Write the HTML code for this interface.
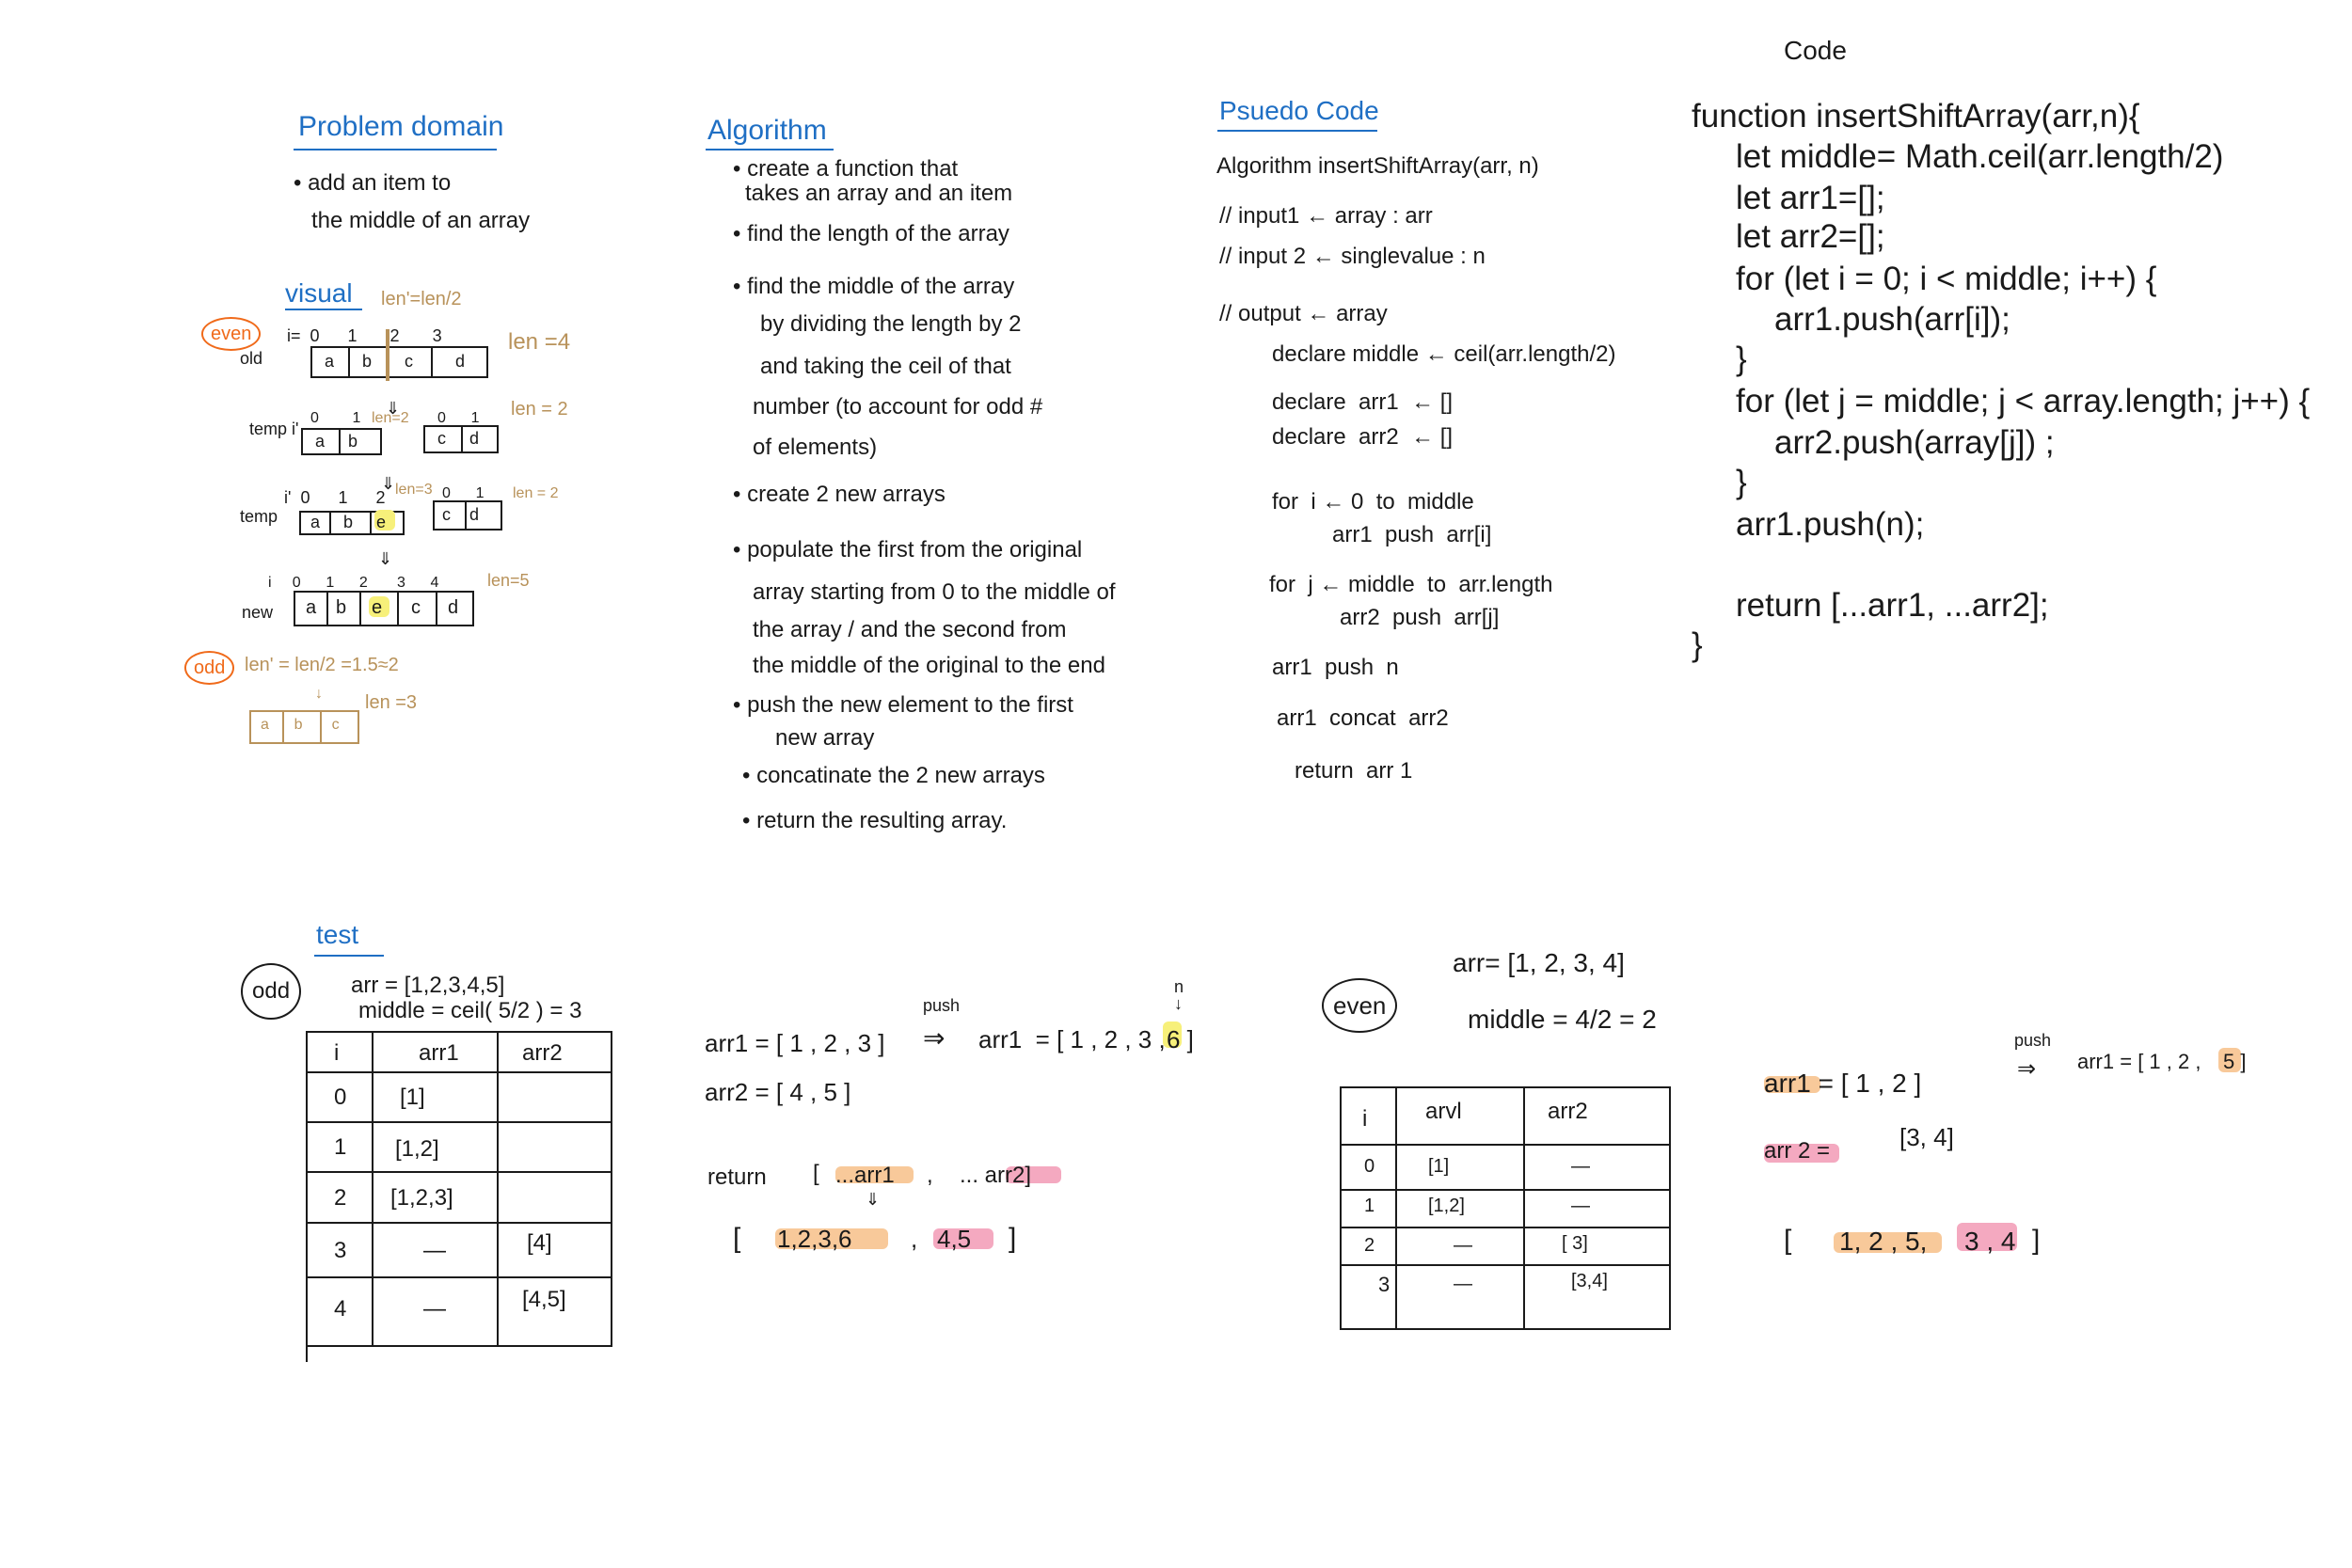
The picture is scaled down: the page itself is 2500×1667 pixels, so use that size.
<!DOCTYPE html>
<html><head><meta charset="utf-8"><style>
body{margin:0;width:2500px;height:1667px;background:#fff;position:relative;overflow:hidden;font-family:"Liberation Sans",sans-serif;color:#1a1a1a}
.t{position:absolute;white-space:nowrap;line-height:1;font-size:24px}
.b{color:#1f6fc4}.o{color:#b8925a}.r{color:#f06a1a}
.c{font-size:35px}
.box{position:absolute;border:2px solid #1a1a1a}
.hl{position:absolute;border-radius:6px}
.ln{position:absolute;background:#1a1a1a}
</style></head><body>

<!-- Problem domain -->
<div class="t b" style="left:317px;top:120px;font-size:30px">Problem domain</div>
<div class="ln" style="left:312px;top:158px;width:216px;height:2px;background:#1f6fc4"></div>
<div class="t" style="left:312px;top:183px">• add an item to</div>
<div class="t" style="left:331px;top:223px">the middle of an array</div>

<!-- Visual -->
<div class="t b" style="left:303px;top:298px;font-size:28px">visual</div>
<div class="ln" style="left:303px;top:328px;width:82px;height:2px;background:#1f6fc4"></div>
<div class="t o" style="left:405px;top:308px;font-size:20px">len'=len/2</div>
<div class="t r" style="left:214px;top:337px;font-size:20px;border:2px solid #f06a1a;border-radius:50%;padding:6px 8px">even</div>
<div class="t" style="left:305px;top:348px;font-size:18px">i= &nbsp;0 &nbsp; &nbsp; &nbsp;1 &nbsp; &nbsp; &nbsp; 2 &nbsp; &nbsp; &nbsp; 3</div>
<div class="t" style="left:255px;top:372px;font-size:18px">old</div>
<div class="box" style="left:330px;top:368px;width:185px;height:30px"></div>
<div class="ln" style="left:370px;top:368px;width:2px;height:32px"></div>
<div class="ln" style="left:410px;top:350px;width:4px;height:55px;background:#b8925a"></div>
<div class="ln" style="left:458px;top:368px;width:2px;height:32px"></div>
<div class="t" style="left:345px;top:375px;font-size:18px">a &nbsp; &nbsp; &nbsp;b &nbsp; &nbsp; &nbsp; c &nbsp; &nbsp; &nbsp; &nbsp; d</div>
<div class="t o" style="left:540px;top:352px;font-size:24px">len =4</div>
<div class="t" style="left:410px;top:425px;font-size:18px">⇓</div>

<div class="t" style="left:265px;top:447px;font-size:18px">temp i'</div>
<div class="t" style="left:330px;top:437px;font-size:16px">0 &nbsp; &nbsp; &nbsp; &nbsp;1</div>
<div class="t o" style="left:395px;top:437px;font-size:16px">len=2</div>
<div class="box" style="left:320px;top:455px;width:82px;height:25px"></div>
<div class="ln" style="left:360px;top:455px;width:2px;height:27px"></div>
<div class="t" style="left:335px;top:460px;font-size:18px">a &nbsp; &nbsp; b</div>
<div class="t" style="left:465px;top:437px;font-size:16px">0 &nbsp; &nbsp; &nbsp;1</div>
<div class="box" style="left:450px;top:452px;width:76px;height:26px"></div>
<div class="ln" style="left:490px;top:452px;width:2px;height:28px"></div>
<div class="t" style="left:465px;top:457px;font-size:18px">c &nbsp; &nbsp; d</div>
<div class="t o" style="left:543px;top:425px;font-size:20px">len = 2</div>

<div class="t" style="left:405px;top:505px;font-size:18px">⇓</div>
<div class="t" style="left:302px;top:520px;font-size:18px">i' &nbsp;0 &nbsp; &nbsp; &nbsp;1 &nbsp; &nbsp; &nbsp;2</div>
<div class="t o" style="left:420px;top:513px;font-size:16px">len=3</div>
<div class="t" style="left:255px;top:540px;font-size:18px">temp</div>
<div class="box" style="left:318px;top:543px;width:108px;height:22px"></div>
<div class="hl" style="left:398px;top:542px;width:22px;height:22px;background:#f7f07a"></div>
<div class="ln" style="left:350px;top:543px;width:2px;height:24px"></div>
<div class="ln" style="left:393px;top:543px;width:2px;height:24px"></div>
<div class="t" style="left:330px;top:546px;font-size:18px">a &nbsp; &nbsp; b &nbsp; &nbsp; e</div>
<div class="t" style="left:470px;top:517px;font-size:16px">0 &nbsp; &nbsp; &nbsp;1</div>
<div class="box" style="left:460px;top:532px;width:70px;height:28px"></div>
<div class="ln" style="left:494px;top:532px;width:2px;height:30px"></div>
<div class="t" style="left:470px;top:538px;font-size:18px">c &nbsp; &nbsp;d</div>
<div class="t o" style="left:545px;top:517px;font-size:16px">len = 2</div>

<div class="t" style="left:402px;top:585px;font-size:18px">⇓</div>
<div class="t" style="left:285px;top:612px;font-size:16px">i &nbsp; &nbsp; 0 &nbsp; &nbsp; &nbsp;1 &nbsp; &nbsp; &nbsp;2 &nbsp; &nbsp; &nbsp; 3 &nbsp; &nbsp; &nbsp;4</div>
<div class="t" style="left:257px;top:642px;font-size:18px">new</div>
<div class="box" style="left:312px;top:628px;width:188px;height:34px"></div>
<div class="hl" style="left:392px;top:634px;width:22px;height:22px;background:#f7f07a"></div>
<div class="ln" style="left:347px;top:628px;width:2px;height:36px"></div>
<div class="ln" style="left:382px;top:628px;width:2px;height:36px"></div>
<div class="ln" style="left:422px;top:628px;width:2px;height:36px"></div>
<div class="ln" style="left:463px;top:628px;width:2px;height:36px"></div>
<div class="t" style="left:325px;top:636px;font-size:20px">a</div>
<div class="t" style="left:357px;top:636px;font-size:20px">b</div>
<div class="t" style="left:395px;top:636px;font-size:20px">e</div>
<div class="t" style="left:437px;top:636px;font-size:20px">c</div>
<div class="t" style="left:476px;top:636px;font-size:20px">d</div>
<div class="t o" style="left:518px;top:608px;font-size:18px">len=5</div>

<div class="t r" style="left:196px;top:692px;font-size:20px;border:2px solid #f06a1a;border-radius:50%;padding:6px 8px">odd</div>
<div class="t o" style="left:260px;top:697px;font-size:20px">len' = len/2 =1.5≈2</div>
<div class="t o" style="left:335px;top:730px;font-size:16px">↓</div>
<div class="box" style="left:265px;top:755px;width:113px;height:32px;border-color:#b8925a"></div>
<div class="ln" style="left:300px;top:755px;width:2px;height:34px;background:#b8925a"></div>
<div class="ln" style="left:340px;top:755px;width:2px;height:34px;background:#b8925a"></div>
<div class="t o" style="left:277px;top:763px;font-size:16px">a &nbsp; &nbsp; &nbsp;b &nbsp; &nbsp; &nbsp; c</div>
<div class="t o" style="left:388px;top:737px;font-size:20px">len =3</div>

<!-- Algorithm -->
<div class="t b" style="left:752px;top:124px;font-size:30px">Algorithm</div>
<div class="ln" style="left:750px;top:158px;width:136px;height:2px;background:#1f6fc4"></div>
<div class="t" style="left:779px;top:168px">• create a function that</div>
<div class="t" style="left:792px;top:194px">takes an array and an item</div>
<div class="t" style="left:779px;top:237px">• find the length of the array</div>
<div class="t" style="left:779px;top:293px">• find the middle of the array</div>
<div class="t" style="left:808px;top:333px">by dividing the length by 2</div>
<div class="t" style="left:808px;top:378px">and taking the ceil of that</div>
<div class="t" style="left:800px;top:421px">number (to account for odd #</div>
<div class="t" style="left:800px;top:464px">of elements)</div>
<div class="t" style="left:779px;top:514px">• create 2 new arrays</div>
<div class="t" style="left:779px;top:573px">• populate the first from the original</div>
<div class="t" style="left:800px;top:618px">array starting from 0 to the middle of</div>
<div class="t" style="left:800px;top:658px">the array / and the second from</div>
<div class="t" style="left:800px;top:696px">the middle of the original to the end</div>
<div class="t" style="left:779px;top:738px">• push the new element to the first</div>
<div class="t" style="left:824px;top:773px">new array</div>
<div class="t" style="left:789px;top:813px">• concatinate the 2 new arrays</div>
<div class="t" style="left:789px;top:861px">• return the resulting array.</div>

<!-- Pseudo Code -->
<div class="t b" style="left:1296px;top:104px;font-size:28px">Psuedo Code</div>
<div class="ln" style="left:1294px;top:138px;width:170px;height:2px;background:#1f6fc4"></div>
<div class="t" style="left:1293px;top:165px">Algorithm insertShiftArray(arr, n)</div>
<div class="t" style="left:1296px;top:218px">// input1 ← array : arr</div>
<div class="t" style="left:1296px;top:261px">// input 2 ← singlevalue : n</div>
<div class="t" style="left:1296px;top:322px">// output ← array</div>
<div class="t" style="left:1352px;top:365px">declare middle ← ceil(arr.length/2)</div>
<div class="t" style="left:1352px;top:416px">declare &nbsp;arr1 &nbsp;← []</div>
<div class="t" style="left:1352px;top:453px">declare &nbsp;arr2 &nbsp;← []</div>
<div class="t" style="left:1352px;top:522px">for &nbsp;i ← 0 &nbsp;to &nbsp;middle</div>
<div class="t" style="left:1416px;top:557px">arr1 &nbsp;push &nbsp;arr[i]</div>
<div class="t" style="left:1349px;top:610px">for &nbsp;j ← middle &nbsp;to &nbsp;arr.length</div>
<div class="t" style="left:1424px;top:645px">arr2 &nbsp;push &nbsp;arr[j]</div>
<div class="t" style="left:1352px;top:698px">arr1 &nbsp;push &nbsp;n</div>
<div class="t" style="left:1357px;top:752px">arr1 &nbsp;concat &nbsp;arr2</div>
<div class="t" style="left:1376px;top:808px">return &nbsp;arr 1</div>

<!-- Code -->
<div class="t" style="left:1896px;top:40px;font-size:28px">Code</div>
<div class="t c" style="left:1798px;top:106px">function insertShiftArray(arr,n){</div>
<div class="t c" style="left:1845px;top:149px">let middle= Math.ceil(arr.length/2)</div>
<div class="t c" style="left:1845px;top:193px">let arr1=[];</div>
<div class="t c" style="left:1845px;top:234px">let arr2=[];</div>
<div class="t c" style="left:1845px;top:279px">for (let i = 0; i &lt; middle; i++) {</div>
<div class="t c" style="left:1886px;top:322px">arr1.push(arr[i]);</div>
<div class="t c" style="left:1845px;top:364px">}</div>
<div class="t c" style="left:1845px;top:409px">for (let j = middle; j &lt; array.length; j++) {</div>
<div class="t c" style="left:1886px;top:453px">arr2.push(array[j]) ;</div>
<div class="t c" style="left:1845px;top:495px">}</div>
<div class="t c" style="left:1845px;top:540px">arr1.push(n);</div>
<div class="t c" style="left:1845px;top:626px">return [...arr1, ...arr2];</div>
<div class="t c" style="left:1798px;top:668px">}</div>

<!-- test -->
<div class="t b" style="left:336px;top:980px;font-size:28px">test</div>
<div class="ln" style="left:334px;top:1015px;width:74px;height:2px;background:#1f6fc4"></div>
<div class="t" style="left:256px;top:1024px;font-size:24px;border:2px solid #1a1a1a;border-radius:50%;padding:16px 10px">odd</div>
<div class="t" style="left:373px;top:1036px">arr = [1,2,3,4,5]</div>
<div class="t" style="left:381px;top:1063px">middle = ceil( 5/2 ) = 3</div>
<div class="box" style="left:325px;top:1096px;width:322px;height:332px"></div>
<div class="ln" style="left:325px;top:1428px;width:2px;height:20px"></div>
<div class="ln" style="left:395px;top:1096px;width:2px;height:334px"></div>
<div class="ln" style="left:528px;top:1096px;width:2px;height:334px"></div>
<div class="ln" style="left:325px;top:1139px;width:324px;height:2px"></div>
<div class="ln" style="left:325px;top:1192px;width:324px;height:2px"></div>
<div class="ln" style="left:325px;top:1245px;width:324px;height:2px"></div>
<div class="ln" style="left:325px;top:1299px;width:324px;height:2px"></div>
<div class="ln" style="left:325px;top:1357px;width:324px;height:2px"></div>
<div class="t" style="left:355px;top:1108px">i</div><div class="t" style="left:445px;top:1108px">arr1</div><div class="t" style="left:555px;top:1108px">arr2</div>
<div class="t" style="left:355px;top:1155px">0</div><div class="t" style="left:425px;top:1155px">[1]</div>
<div class="t" style="left:355px;top:1208px">1</div><div class="t" style="left:420px;top:1210px">[1,2]</div>
<div class="t" style="left:355px;top:1262px">2</div><div class="t" style="left:415px;top:1262px">[1,2,3]</div>
<div class="t" style="left:355px;top:1318px">3</div><div class="t" style="left:450px;top:1318px">—</div><div class="t" style="left:560px;top:1310px">[4]</div>
<div class="t" style="left:355px;top:1380px">4</div><div class="t" style="left:450px;top:1380px">—</div><div class="t" style="left:555px;top:1370px">[4,5]</div>

<div class="t" style="left:749px;top:1096px;font-size:26px">arr1 = [ 1 , 2 , 3 ]</div>
<div class="t" style="left:981px;top:1060px;font-size:18px">push</div>
<div class="t" style="left:981px;top:1090px;font-size:28px">⇒</div>
<div class="t" style="left:1040px;top:1092px;font-size:26px">arr1 &nbsp;= [ 1 , 2 , 3 ,</div>
<div class="hl" style="left:1236px;top:1086px;width:20px;height:28px;background:#f7f07a"></div>
<div class="t" style="left:1240px;top:1092px;font-size:26px">6 ]</div>
<div class="t" style="left:1248px;top:1040px;font-size:18px">n<br>↓</div>
<div class="t" style="left:749px;top:1148px;font-size:26px">arr2 = [ 4 , 5 ]</div>
<div class="hl" style="left:888px;top:1240px;width:83px;height:18px;background:#f8c99a"></div>
<div class="hl" style="left:1069px;top:1240px;width:59px;height:18px;background:#f4a9c0"></div>
<div class="t" style="left:752px;top:1240px">return</div>
<div class="t" style="left:864px;top:1236px">[</div>
<div class="t" style="left:888px;top:1238px">...arr1</div>
<div class="t" style="left:985px;top:1238px">,</div>
<div class="t" style="left:1020px;top:1238px">... arr2]</div>
<div class="t" style="left:920px;top:1266px;font-size:18px">⇓</div>
<div class="hl" style="left:824px;top:1306px;width:120px;height:22px;background:#f8c99a"></div>
<div class="hl" style="left:992px;top:1306px;width:64px;height:22px;background:#f4a9c0"></div>
<div class="t" style="left:779px;top:1302px;font-size:30px">[</div>
<div class="t" style="left:826px;top:1304px;font-size:26px">1,2,3,6</div>
<div class="t" style="left:968px;top:1304px;font-size:26px">,</div>
<div class="t" style="left:996px;top:1304px;font-size:26px">4,5</div>
<div class="t" style="left:1072px;top:1302px;font-size:30px">]</div>

<!-- even -->
<div class="t" style="left:1405px;top:1040px;font-size:26px;border:2px solid #1a1a1a;border-radius:50%;padding:14px 10px">even</div>
<div class="t" style="left:1544px;top:1010px;font-size:28px">arr= [1, 2, 3, 4]</div>
<div class="t" style="left:1560px;top:1070px;font-size:28px">middle = 4/2 = 2</div>
<div class="box" style="left:1424px;top:1155px;width:348px;height:255px;border-top:2px solid #1a1a1a"></div>
<div class="ln" style="left:1483px;top:1155px;width:2px;height:257px"></div>
<div class="ln" style="left:1619px;top:1155px;width:2px;height:257px"></div>
<div class="ln" style="left:1424px;top:1216px;width:350px;height:2px"></div>
<div class="ln" style="left:1424px;top:1264px;width:350px;height:2px"></div>
<div class="ln" style="left:1424px;top:1304px;width:350px;height:2px"></div>
<div class="ln" style="left:1424px;top:1344px;width:350px;height:2px"></div>
<div class="t" style="left:1448px;top:1178px">i</div><div class="t" style="left:1515px;top:1170px">arvl</div><div class="t" style="left:1645px;top:1170px">arr2</div>
<div class="t" style="left:1450px;top:1230px;font-size:20px">0</div><div class="t" style="left:1518px;top:1230px;font-size:20px">[1]</div><div class="t" style="left:1670px;top:1230px;font-size:20px">—</div>
<div class="t" style="left:1450px;top:1272px;font-size:20px">1</div><div class="t" style="left:1518px;top:1272px;font-size:20px">[1,2]</div><div class="t" style="left:1670px;top:1272px;font-size:20px">—</div>
<div class="t" style="left:1450px;top:1314px;font-size:20px">2</div><div class="t" style="left:1545px;top:1314px;font-size:20px">—</div><div class="t" style="left:1660px;top:1312px;font-size:20px">[ 3]</div>
<div class="t" style="left:1465px;top:1355px;font-size:22px">3</div><div class="t" style="left:1545px;top:1355px;font-size:20px">—</div><div class="t" style="left:1670px;top:1352px;font-size:20px">[3,4]</div>

<div class="hl" style="left:1875px;top:1144px;width:60px;height:18px;background:#f8c99a"></div>
<div class="t" style="left:1875px;top:1138px;font-size:28px">arr1 = [ 1 , 2 ]</div>
<div class="t" style="left:2141px;top:1097px;font-size:18px">push</div>
<div class="t" style="left:2144px;top:1125px;font-size:24px">⇒</div>
<div class="t" style="left:2208px;top:1118px;font-size:22px">arr1 = [ 1 , 2 ,</div>
<div class="hl" style="left:2358px;top:1114px;width:24px;height:26px;background:#f8c99a"></div>
<div class="t" style="left:2363px;top:1118px;font-size:22px">5 ]</div>
<div class="hl" style="left:1875px;top:1216px;width:80px;height:20px;background:#f4a9c0"></div>
<div class="t" style="left:1875px;top:1212px;font-size:24px">arr 2 =</div>
<div class="t" style="left:2019px;top:1196px;font-size:26px">[3, 4]</div>
<div class="hl" style="left:1949px;top:1310px;width:115px;height:22px;background:#f8c99a"></div>
<div class="hl" style="left:2080px;top:1300px;width:64px;height:30px;background:#f4a9c0"></div>
<div class="t" style="left:1896px;top:1304px;font-size:30px">[</div>
<div class="t" style="left:1955px;top:1306px;font-size:28px">1, 2 , 5,</div>
<div class="t" style="left:2088px;top:1306px;font-size:28px">3 , 4</div>
<div class="t" style="left:2160px;top:1304px;font-size:30px">]</div>

</body></html>
